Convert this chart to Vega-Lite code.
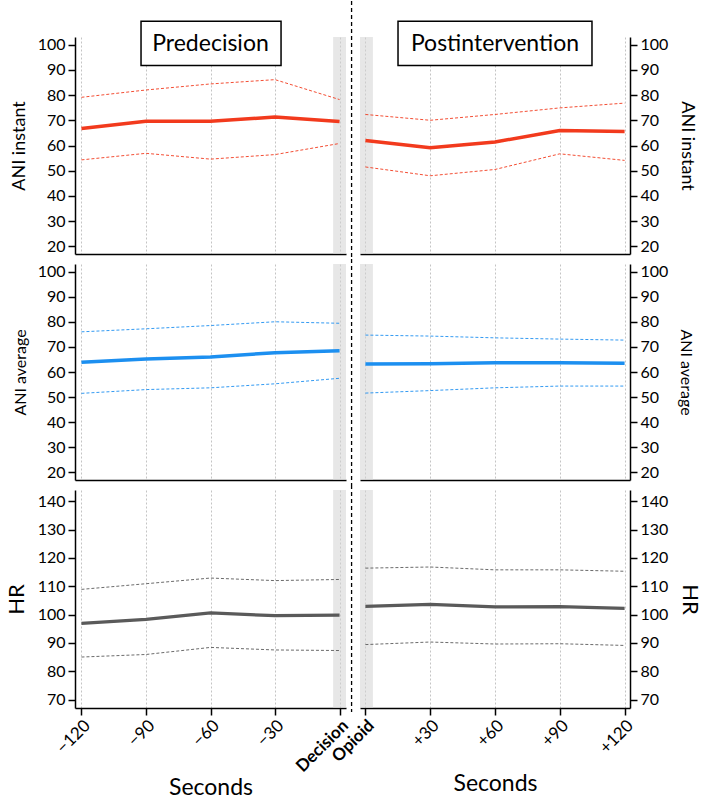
{
  "$schema": "https://vega.github.io/schema/vega-lite/v6.json",
  "padding": {"left": 5, "top": 0, "right": 5, "bottom": 0},
  "background": "white",
  "datasets": {
    "d": [
      {"s": "pre", "m": "inst", "t": -120, "mean": 66.7, "lo": 54.3, "hi": 79.1},
      {"s": "pre", "m": "inst", "t": -90, "mean": 69.6, "lo": 56.9, "hi": 82.0},
      {"s": "pre", "m": "inst", "t": -60, "mean": 69.6, "lo": 54.6, "hi": 84.4},
      {"s": "pre", "m": "inst", "t": -30, "mean": 71.3, "lo": 56.4, "hi": 86.1},
      {"s": "pre", "m": "inst", "t": 0, "mean": 69.5, "lo": 60.8, "hi": 78.2},
      {"s": "post", "m": "inst", "t": 0, "mean": 62.0, "lo": 51.5, "hi": 72.3},
      {"s": "post", "m": "inst", "t": 30, "mean": 59.1, "lo": 48.0, "hi": 70.0},
      {"s": "post", "m": "inst", "t": 60, "mean": 61.4, "lo": 50.5, "hi": 72.3},
      {"s": "post", "m": "inst", "t": 90, "mean": 65.9, "lo": 56.7, "hi": 74.9},
      {"s": "post", "m": "inst", "t": 120, "mean": 65.5, "lo": 54.1, "hi": 76.8},
      {"s": "pre", "m": "avg", "t": -120, "mean": 63.9, "lo": 51.5, "hi": 76.0},
      {"s": "pre", "m": "avg", "t": -90, "mean": 65.2, "lo": 53.0, "hi": 77.2},
      {"s": "pre", "m": "avg", "t": -60, "mean": 66.0, "lo": 53.7, "hi": 78.5},
      {"s": "pre", "m": "avg", "t": -30, "mean": 67.7, "lo": 55.3, "hi": 80.0},
      {"s": "pre", "m": "avg", "t": 0, "mean": 68.5, "lo": 57.5, "hi": 79.4},
      {"s": "post", "m": "avg", "t": 0, "mean": 63.2, "lo": 51.6, "hi": 74.7},
      {"s": "post", "m": "avg", "t": 30, "mean": 63.3, "lo": 52.6, "hi": 74.3},
      {"s": "post", "m": "avg", "t": 60, "mean": 63.7, "lo": 53.7, "hi": 73.6},
      {"s": "post", "m": "avg", "t": 90, "mean": 63.7, "lo": 54.4, "hi": 73.1},
      {"s": "post", "m": "avg", "t": 120, "mean": 63.5, "lo": 54.4, "hi": 72.7},
      {"s": "pre", "m": "hr", "t": -120, "mean": 96.9, "lo": 85.0, "hi": 108.9},
      {"s": "pre", "m": "hr", "t": -90, "mean": 98.3, "lo": 85.9, "hi": 110.9},
      {"s": "pre", "m": "hr", "t": -60, "mean": 100.6, "lo": 88.4, "hi": 112.9},
      {"s": "pre", "m": "hr", "t": -30, "mean": 99.6, "lo": 87.5, "hi": 112.0},
      {"s": "pre", "m": "hr", "t": 0, "mean": 99.8, "lo": 87.3, "hi": 112.4},
      {"s": "post", "m": "hr", "t": 0, "mean": 102.9, "lo": 89.4, "hi": 116.4},
      {"s": "post", "m": "hr", "t": 30, "mean": 103.6, "lo": 90.3, "hi": 116.8},
      {"s": "post", "m": "hr", "t": 60, "mean": 102.7, "lo": 89.6, "hi": 115.8},
      {"s": "post", "m": "hr", "t": 90, "mean": 102.8, "lo": 89.7, "hi": 115.8},
      {"s": "post", "m": "hr", "t": 120, "mean": 102.2, "lo": 89.1, "hi": 115.3}
    ]
  },
  "columns": 2,
  "spacing": {"row": 10, "column": 14},
  "bounds": "flush",
  "concat": [
    {
      "width": 271, "height": 217,
      "data": {"name": "d"},
      "transform": [{"filter": "datum.s == 'pre' && datum.m == 'inst'"}, {"fold": ["mean", "lo", "hi"], "as": ["stat", "v"]}],
      "layer": [
        {"data": {"values": [{}]}, "mark": {"type": "rect", "fill": "#d4d4d4", "opacity": 0.55},
         "encoding": {"x": {"datum": -3, "type": "quantitative", "scale": {"domain": [-123, 3], "nice": false, "zero": false}, "axis": {"values": [-120, -90, -60, -30, 0], "labels": false, "ticks": false, "title": null}}, "x2": {"datum": 3}}},
        {"transform": [{"filter": "datum.stat == 'mean'"}],
         "mark": {"type": "line", "color": "#f23a1d", "strokeWidth": 3.5},
         "encoding": {
           "x": {"field": "t", "type": "quantitative", "scale": {"domain": [-123, 3], "nice": false, "zero": false}, "axis": {"values": [-120, -90, -60, -30, 0], "labels": false, "ticks": false, "title": null}},
           "y": {"field": "v", "type": "quantitative", "scale": {"domain": [17, 103], "nice": false, "zero": false}, "axis": {"orient": "left", "values": [20, 30, 40, 50, 60, 70, 80, 90, 100], "labelOverlap": false, "title": "ANI instant", "titleFontSize": 18, "titlePadding": 9}}
         }},
        {"transform": [{"filter": "datum.stat != 'mean'"}],
         "mark": {"type": "line", "color": "#f23a1d", "strokeWidth": 0.9, "strokeDash": [3, 2]},
         "encoding": {
           "x": {"field": "t", "type": "quantitative", "axis": {"values": [-120, -90, -60, -30, 0], "labels": false, "ticks": false, "title": null}},
           "y": {"field": "v", "type": "quantitative", "axis": {"orient": "left", "values": [20, 30, 40, 50, 60, 70, 80, 90, 100], "labelOverlap": false, "title": "ANI instant", "titleFontSize": 18, "titlePadding": 9}},
           "detail": {"field": "stat"}
         }},
        {"data": {"values": [{}]}, "mark": {"type": "rect", "fill": "white", "stroke": "black", "strokeWidth": 1.5},
         "encoding": {"x": {"datum": -92.3, "axis": {"values": [-120, -90, -60, -30, 0], "labels": false, "ticks": false, "title": null}}, "x2": {"datum": -27.2},
                      "y": {"datum": 109.2, "axis": {"orient": "left", "values": [20, 30, 40, 50, 60, 70, 80, 90, 100], "labelOverlap": false, "title": "ANI instant", "titleFontSize": 18, "titlePadding": 9}}, "y2": {"datum": 91.7}}},
        {"data": {"values": [{}]}, "mark": {"type": "text", "text": "Predecision", "fontSize": 23, "baseline": "middle", "color": "black"},
         "encoding": {"x": {"datum": -60, "axis": {"values": [-120, -90, -60, -30, 0], "labels": false, "ticks": false, "title": null}},
                      "y": {"datum": 100.4, "axis": {"orient": "left", "values": [20, 30, 40, 50, 60, 70, 80, 90, 100], "labelOverlap": false, "title": "ANI instant", "titleFontSize": 18, "titlePadding": 9}}}}
      ]
    },
    {
      "width": 270, "height": 217,
      "data": {"name": "d"},
      "transform": [{"filter": "datum.s == 'post' && datum.m == 'inst'"}, {"fold": ["mean", "lo", "hi"], "as": ["stat", "v"]}],
      "layer": [
        {"data": {"values": [{}]}, "mark": {"type": "rect", "fill": "#d4d4d4", "opacity": 0.55},
         "encoding": {"x": {"datum": -2.5, "type": "quantitative", "scale": {"domain": [-2.5, 122.5], "nice": false, "zero": false}, "axis": {"values": [0, 30, 60, 90, 120], "labels": false, "ticks": false, "title": null}}, "x2": {"datum": 3.5}}},
        {"transform": [{"filter": "datum.stat == 'mean'"}],
         "mark": {"type": "line", "color": "#f23a1d", "strokeWidth": 3.5},
         "encoding": {
           "x": {"field": "t", "type": "quantitative", "scale": {"domain": [-2.5, 122.5], "nice": false, "zero": false}, "axis": {"values": [0, 30, 60, 90, 120], "labels": false, "ticks": false, "title": null}},
           "y": {"field": "v", "type": "quantitative", "scale": {"domain": [17, 103], "nice": false, "zero": false}, "axis": {"orient": "right", "values": [20, 30, 40, 50, 60, 70, 80, 90, 100], "labelOverlap": false, "title": "ANI instant", "titleFontSize": 18, "titlePadding": 10}}
         }},
        {"transform": [{"filter": "datum.stat != 'mean'"}],
         "mark": {"type": "line", "color": "#f23a1d", "strokeWidth": 0.9, "strokeDash": [3, 2]},
         "encoding": {
           "x": {"field": "t", "type": "quantitative", "axis": {"values": [0, 30, 60, 90, 120], "labels": false, "ticks": false, "title": null}},
           "y": {"field": "v", "type": "quantitative", "axis": {"orient": "right", "values": [20, 30, 40, 50, 60, 70, 80, 90, 100], "labelOverlap": false, "title": "ANI instant", "titleFontSize": 18, "titlePadding": 10}},
           "detail": {"field": "stat"}
         }},
        {"data": {"values": [{}]}, "mark": {"type": "rect", "fill": "white", "stroke": "black", "strokeWidth": 1.5},
         "encoding": {"x": {"datum": 15.1, "axis": {"values": [0, 30, 60, 90, 120], "labels": false, "ticks": false, "title": null}}, "x2": {"datum": 104.9},
                      "y": {"datum": 109.2, "axis": {"orient": "right", "values": [20, 30, 40, 50, 60, 70, 80, 90, 100], "labelOverlap": false, "title": "ANI instant", "titleFontSize": 18, "titlePadding": 10}}, "y2": {"datum": 91.7}}},
        {"data": {"values": [{}]}, "mark": {"type": "text", "text": "Postintervention", "fontSize": 23, "baseline": "middle", "color": "black"},
         "encoding": {"x": {"datum": 60, "axis": {"values": [0, 30, 60, 90, 120], "labels": false, "ticks": false, "title": null}},
                      "y": {"datum": 100.4, "axis": {"orient": "right", "values": [20, 30, 40, 50, 60, 70, 80, 90, 100], "labelOverlap": false, "title": "ANI instant", "titleFontSize": 18, "titlePadding": 10}}}},
        {"data": {"values": [{}]}, "mark": {"type": "rule", "color": "black", "strokeWidth": 1.3, "strokeDash": [4, 3]},
         "encoding": {"x": {"datum": -6.4, "axis": {"values": [0, 30, 60, 90, 120], "labels": false, "ticks": false, "title": null}},
                      "y": {"datum": 117.3, "axis": {"orient": "right", "values": [20, 30, 40, 50, 60, 70, 80, 90, 100], "labelOverlap": false, "title": "ANI instant", "titleFontSize": 18, "titlePadding": 10}}, "y2": {"datum": 15}}}
      ]
    },
    {
      "width": 271, "height": 216,
      "data": {"name": "d"},
      "transform": [{"filter": "datum.s == 'pre' && datum.m == 'avg'"}, {"fold": ["mean", "lo", "hi"], "as": ["stat", "v"]}],
      "layer": [
        {"data": {"values": [{}]}, "mark": {"type": "rect", "fill": "#d4d4d4", "opacity": 0.55},
         "encoding": {"x": {"datum": -3, "type": "quantitative", "scale": {"domain": [-123, 3], "nice": false, "zero": false}, "axis": {"values": [-120, -90, -60, -30, 0], "labels": false, "ticks": false, "title": null}}, "x2": {"datum": 3}}},
        {"transform": [{"filter": "datum.stat == 'mean'"}],
         "mark": {"type": "line", "color": "#1c8ff0", "strokeWidth": 3.5},
         "encoding": {
           "x": {"field": "t", "type": "quantitative", "scale": {"domain": [-123, 3], "nice": false, "zero": false}, "axis": {"values": [-120, -90, -60, -30, 0], "labels": false, "ticks": false, "title": null}},
           "y": {"field": "v", "type": "quantitative", "scale": {"domain": [17, 103], "nice": false, "zero": false}, "axis": {"orient": "left", "values": [20, 30, 40, 50, 60, 70, 80, 90, 100], "labelOverlap": false, "title": "ANI average", "titleFontSize": 16, "titlePadding": 9}}
         }},
        {"transform": [{"filter": "datum.stat != 'mean'"}],
         "mark": {"type": "line", "color": "#1c8ff0", "strokeWidth": 0.9, "strokeDash": [3, 2]},
         "encoding": {
           "x": {"field": "t", "type": "quantitative", "axis": {"values": [-120, -90, -60, -30, 0], "labels": false, "ticks": false, "title": null}},
           "y": {"field": "v", "type": "quantitative", "axis": {"orient": "left", "values": [20, 30, 40, 50, 60, 70, 80, 90, 100], "labelOverlap": false, "title": "ANI average", "titleFontSize": 16, "titlePadding": 9}},
           "detail": {"field": "stat"}
         }}
      ]
    },
    {
      "width": 270, "height": 216,
      "data": {"name": "d"},
      "transform": [{"filter": "datum.s == 'post' && datum.m == 'avg'"}, {"fold": ["mean", "lo", "hi"], "as": ["stat", "v"]}],
      "layer": [
        {"data": {"values": [{}]}, "mark": {"type": "rect", "fill": "#d4d4d4", "opacity": 0.55},
         "encoding": {"x": {"datum": -2.5, "type": "quantitative", "scale": {"domain": [-2.5, 122.5], "nice": false, "zero": false}, "axis": {"values": [0, 30, 60, 90, 120], "labels": false, "ticks": false, "title": null}}, "x2": {"datum": 3.5}}},
        {"transform": [{"filter": "datum.stat == 'mean'"}],
         "mark": {"type": "line", "color": "#1c8ff0", "strokeWidth": 3.5},
         "encoding": {
           "x": {"field": "t", "type": "quantitative", "scale": {"domain": [-2.5, 122.5], "nice": false, "zero": false}, "axis": {"values": [0, 30, 60, 90, 120], "labels": false, "ticks": false, "title": null}},
           "y": {"field": "v", "type": "quantitative", "scale": {"domain": [17, 103], "nice": false, "zero": false}, "axis": {"orient": "right", "values": [20, 30, 40, 50, 60, 70, 80, 90, 100], "labelOverlap": false, "title": "ANI average", "titleFontSize": 16, "titlePadding": 10}}
         }},
        {"transform": [{"filter": "datum.stat != 'mean'"}],
         "mark": {"type": "line", "color": "#1c8ff0", "strokeWidth": 0.9, "strokeDash": [3, 2]},
         "encoding": {
           "x": {"field": "t", "type": "quantitative", "axis": {"values": [0, 30, 60, 90, 120], "labels": false, "ticks": false, "title": null}},
           "y": {"field": "v", "type": "quantitative", "axis": {"orient": "right", "values": [20, 30, 40, 50, 60, 70, 80, 90, 100], "labelOverlap": false, "title": "ANI average", "titleFontSize": 16, "titlePadding": 10}},
           "detail": {"field": "stat"}
         }},
        {"data": {"values": [{}]}, "mark": {"type": "rule", "color": "black", "strokeWidth": 1.3, "strokeDash": [4, 3]},
         "encoding": {"x": {"datum": -6.4, "axis": {"values": [0, 30, 60, 90, 120], "labels": false, "ticks": false, "title": null}},
                      "y": {"datum": 105, "axis": {"orient": "right", "values": [20, 30, 40, 50, 60, 70, 80, 90, 100], "labelOverlap": false, "title": "ANI average", "titleFontSize": 16, "titlePadding": 10}}, "y2": {"datum": 15}}}
      ]
    },
    {
      "width": 271, "height": 218,
      "data": {"name": "d"},
      "transform": [{"filter": "datum.s == 'pre' && datum.m == 'hr'"}, {"fold": ["mean", "lo", "hi"], "as": ["stat", "v"]}],
      "layer": [
        {"data": {"values": [{}]}, "mark": {"type": "rect", "fill": "#d4d4d4", "opacity": 0.55},
         "encoding": {"x": {"datum": -3, "type": "quantitative", "scale": {"domain": [-123, 3], "nice": false, "zero": false}, "axis": {"values": [-120, -90, -60, -30, 0], "labelExpr": "datum.value == 0 ? 'Decision' : '\u2212' + abs(datum.value)", "labelAngle": -45, "labelFontSize": 17, "labelOverlap": false, "labelFontWeight": {"condition": {"test": "datum.value == 0", "value": "bold"}, "value": "normal"}, "tickSize": 7, "title": "Seconds", "titleFontSize": 23, "titleBaseline": "alphabetic", "titleY": 86}}, "x2": {"datum": 3}}},
        {"transform": [{"filter": "datum.stat == 'mean'"}],
         "mark": {"type": "line", "color": "#5a5a5a", "strokeWidth": 3.2},
         "encoding": {
           "x": {"field": "t", "type": "quantitative", "scale": {"domain": [-123, 3], "nice": false, "zero": false}, "axis": {"values": [-120, -90, -60, -30, 0], "labelExpr": "datum.value == 0 ? 'Decision' : '\u2212' + abs(datum.value)", "labelAngle": -45, "labelFontSize": 17, "labelOverlap": false, "labelFontWeight": {"condition": {"test": "datum.value == 0", "value": "bold"}, "value": "normal"}, "tickSize": 7, "title": "Seconds", "titleFontSize": 23, "titleBaseline": "alphabetic", "titleY": 86}},
           "y": {"field": "v", "type": "quantitative", "scale": {"domain": [67, 144], "nice": false, "zero": false}, "axis": {"orient": "left", "values": [70, 80, 90, 100, 110, 120, 130, 140], "labelOverlap": false, "title": "HR", "titleFontSize": 22, "titlePadding": 9}}
         }},
        {"transform": [{"filter": "datum.stat != 'mean'"}],
         "mark": {"type": "line", "color": "#5a5a5a", "strokeWidth": 0.9, "strokeDash": [3, 2]},
         "encoding": {
           "x": {"field": "t", "type": "quantitative", "axis": {"values": [-120, -90, -60, -30, 0], "labelExpr": "datum.value == 0 ? 'Decision' : '\u2212' + abs(datum.value)", "labelAngle": -45, "labelFontSize": 17, "labelOverlap": false, "labelFontWeight": {"condition": {"test": "datum.value == 0", "value": "bold"}, "value": "normal"}, "tickSize": 7, "title": "Seconds", "titleFontSize": 23, "titleBaseline": "alphabetic", "titleY": 86}},
           "y": {"field": "v", "type": "quantitative", "axis": {"orient": "left", "values": [70, 80, 90, 100, 110, 120, 130, 140], "labelOverlap": false, "title": "HR", "titleFontSize": 22, "titlePadding": 9}},
           "detail": {"field": "stat"}
         }}
      ]
    },
    {
      "width": 270, "height": 218,
      "data": {"name": "d"},
      "transform": [{"filter": "datum.s == 'post' && datum.m == 'hr'"}, {"fold": ["mean", "lo", "hi"], "as": ["stat", "v"]}],
      "layer": [
        {"data": {"values": [{}]}, "mark": {"type": "rect", "fill": "#d4d4d4", "opacity": 0.55},
         "encoding": {"x": {"datum": -2.5, "type": "quantitative", "scale": {"domain": [-2.5, 122.5], "nice": false, "zero": false}, "axis": {"values": [0, 30, 60, 90, 120], "labelExpr": "datum.value == 0 ? 'Opioid' : '+' + datum.value", "labelAngle": -45, "labelFontSize": 17, "labelOverlap": false, "labelFontWeight": {"condition": {"test": "datum.value == 0", "value": "bold"}, "value": "normal"}, "tickSize": 7, "title": "Seconds", "titleFontSize": 23, "titleBaseline": "alphabetic", "titleY": 82}}, "x2": {"datum": 3.5}}},
        {"transform": [{"filter": "datum.stat == 'mean'"}],
         "mark": {"type": "line", "color": "#5a5a5a", "strokeWidth": 3.2},
         "encoding": {
           "x": {"field": "t", "type": "quantitative", "scale": {"domain": [-2.5, 122.5], "nice": false, "zero": false}, "axis": {"values": [0, 30, 60, 90, 120], "labelExpr": "datum.value == 0 ? 'Opioid' : '+' + datum.value", "labelAngle": -45, "labelFontSize": 17, "labelOverlap": false, "labelFontWeight": {"condition": {"test": "datum.value == 0", "value": "bold"}, "value": "normal"}, "tickSize": 7, "title": "Seconds", "titleFontSize": 23, "titleBaseline": "alphabetic", "titleY": 82}},
           "y": {"field": "v", "type": "quantitative", "scale": {"domain": [67, 144], "nice": false, "zero": false}, "axis": {"orient": "right", "values": [70, 80, 90, 100, 110, 120, 130, 140], "labelOverlap": false, "title": "HR", "titleFontSize": 22, "titlePadding": 10}}
         }},
        {"transform": [{"filter": "datum.stat != 'mean'"}],
         "mark": {"type": "line", "color": "#5a5a5a", "strokeWidth": 0.9, "strokeDash": [3, 2]},
         "encoding": {
           "x": {"field": "t", "type": "quantitative", "axis": {"values": [0, 30, 60, 90, 120], "labelExpr": "datum.value == 0 ? 'Opioid' : '+' + datum.value", "labelAngle": -45, "labelFontSize": 17, "labelOverlap": false, "labelFontWeight": {"condition": {"test": "datum.value == 0", "value": "bold"}, "value": "normal"}, "tickSize": 7, "title": "Seconds", "titleFontSize": 23, "titleBaseline": "alphabetic", "titleY": 82}},
           "y": {"field": "v", "type": "quantitative", "axis": {"orient": "right", "values": [70, 80, 90, 100, 110, 120, 130, 140], "labelOverlap": false, "title": "HR", "titleFontSize": 22, "titlePadding": 10}},
           "detail": {"field": "stat"}
         }},
        {"data": {"values": [{}]}, "mark": {"type": "rule", "color": "black", "strokeWidth": 1.3, "strokeDash": [4, 3]},
         "encoding": {"x": {"datum": -6.4, "axis": {"values": [0, 30, 60, 90, 120], "labelExpr": "datum.value == 0 ? 'Opioid' : '+' + datum.value", "labelAngle": -45, "labelFontSize": 17, "labelOverlap": false, "labelFontWeight": {"condition": {"test": "datum.value == 0", "value": "bold"}, "value": "normal"}, "tickSize": 7, "title": "Seconds", "titleFontSize": 23, "titleBaseline": "alphabetic", "titleY": 82}},
                      "y": {"datum": 145.8, "axis": {"orient": "right", "values": [70, 80, 90, 100, 110, 120, 130, 140], "labelOverlap": false, "title": "HR", "titleFontSize": 22, "titlePadding": 10}}, "y2": {"datum": 65.6}}}
      ]
    }
  ],
  "config": {
    "font": "Lato",
    "view": {"stroke": null},
    "axis": {"domainColor": "black", "domainWidth": 1.5, "tickColor": "black", "tickWidth": 1.5, "labelColor": "black", "labelFontSize": 16, "labelOverlap": false, "titleColor": "black", "titleFontWeight": "normal", "labelFont": "Lato", "titleFont": "Lato"},
    "axisX": {"grid": true, "gridColor": "#b5b5b5", "gridDash": [2, 2], "gridWidth": 0.8},
    "axisY": {"grid": false, "tickSize": 7, "labelPadding": 3}
  }
}
